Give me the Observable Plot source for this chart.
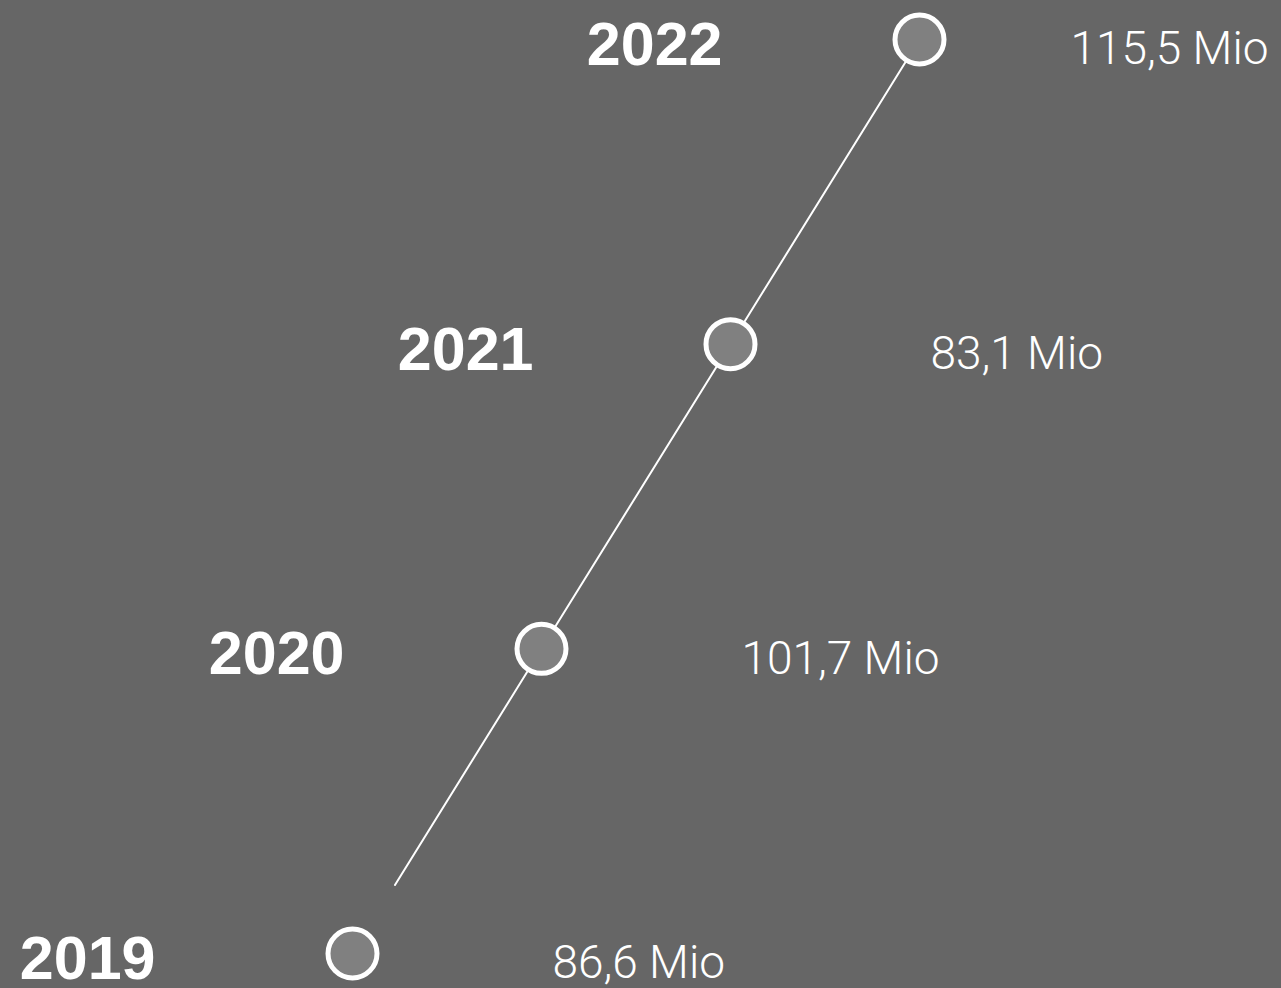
<!DOCTYPE html>
<html>
<head>
<meta charset="utf-8">
<script src="https://cdn.jsdelivr.net/npm/d3@7"></script>
<script src="https://cdn.jsdelivr.net/npm/@observablehq/plot@0.6"></script>
<style>
  html, body { margin: 0; padding: 0; background: #666666; overflow: hidden; }
</style>
</head>
<body>
<div id="chart"></div>
<script>
const years = [2019, 2020, 2021, 2022];
const valueLabels = ["86,6 Mio", "101,7 Mio", "83,1 Mio", "115,5 Mio"];

const data = years.map((y, i) => ({year: y, label: valueLabels[i]}));
const lineData = data.slice().reverse();

const chart = Plot.plot({
  width: 1281,
  height: 988,
  margin: 0,
  style: {background: "#666666", overflow: "visible"},
  x: {domain: [2019, 2022], range: [352, 919], axis: null},
  y: {domain: [2019, 2022], range: [953, 39], axis: null},
  marks: [
    Plot.line(lineData, {x: "year", y: "year", stroke: "white", strokeWidth: 2, strokeDasharray: "995 2000"}),
    Plot.dot(data, {x: "year", y: "year", r: 24.5, fill: "#808080", stroke: "white", strokeWidth: 5}),
    Plot.text(data, {x: "year", y: "year", text: d => String(d.year), dx: -197, dy: 6, textAnchor: "end",
      fontSize: 61, fontWeight: "bold", fill: "white", fontFamily: "'Helvetica Neue', 'Liberation Sans', Arial, sans-serif"}),
    Plot.text(data.slice(0, 3), {x: "year", y: "year", text: "label", dx: 200, dy: 10, textAnchor: "start",
      fontSize: 46, fontWeight: 300, fill: "white", fontFamily: "'Helvetica Neue', Roboto, sans-serif"}),
    Plot.text(data.slice(3), {x: "year", y: "year", text: "label", dx: 151, dy: 10, textAnchor: "start",
      fontSize: 46, fontWeight: 300, fill: "white", fontFamily: "'Helvetica Neue', Roboto, sans-serif"})
  ]
});
document.getElementById("chart").appendChild(chart);
</script>
</body>
</html>
